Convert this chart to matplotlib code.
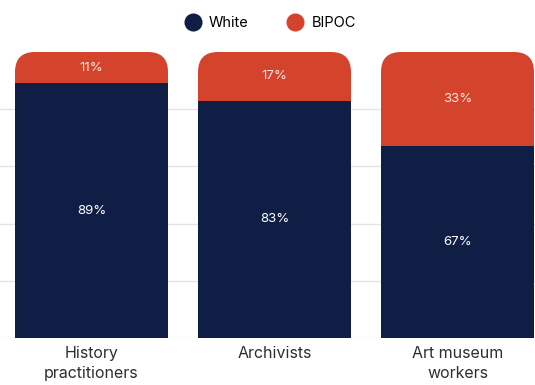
import matplotlib
matplotlib.use("Agg")
import matplotlib.pyplot as plt
from matplotlib.patches import FancyBboxPatch
from matplotlib.lines import Line2D

categories = ["History\npractitioners", "Archivists", "Art museum\nworkers"]
white = [89, 83, 67]
bipoc = [11, 17, 33]
series_names = ["White", "BIPOC"]
navy = "#101d45"
red = "#d4432c"
text_col = "#2e2e2e"

W, H = 535, 385
fig = plt.figure(figsize=(W/100, H/100), dpi=100)
top_px, bot_px = 52, 338
ax = fig.add_axes([0, (H-bot_px)/H, 1, (bot_px-top_px)/H])
ax.set_xlim(-0.5, (W-91.5)/183)
ax.set_ylim(0, 100)
for s in ax.spines.values():
    s.set_visible(False)

for g in [0, 20, 40, 60, 80]:
    ax.axhline(g, color="#e4e4e4", lw=1, zorder=0)

bw = 153/183
px_x = 183.0
px_y = (bot_px-top_px)/100.0
rad = 20/px_x
x = list(range(len(categories)))
for i in x:
    tot = white[i] + bipoc[i]
    p = FancyBboxPatch((i - bw/2, 0), bw, tot,
                       boxstyle=f"round,pad=0,rounding_size={rad}",
                       mutation_aspect=px_x/px_y,
                       fc=red, ec="none", zorder=2)
    ax.add_patch(p)
ax.bar(x, white, width=bw, color=navy, zorder=3)

for i in x:
    ax.text(i, white[i]/2, f"{white[i]}%", ha="center", va="center",
            color="white", fontsize=9.5, family="Inter", zorder=4)
    ax.text(i, white[i] + bipoc[i]/2, f"{bipoc[i]}%", ha="center", va="center",
            color="#fbe9e4", fontsize=9.5, family="Inter", zorder=4)

ax.set_xticks(x)
ax.set_xticklabels(categories, fontsize=11.5, color=text_col, family="Inter",
                   linespacing=1.35)
ax.tick_params(axis="x", length=0, pad=6)
ax.set_yticks([])

handles = [Line2D([], [], marker="o", ls="none", ms=12, mfc=c, mec=c)
           for c in (navy, red)]
fig.legend(handles, series_names, loc="center", bbox_to_anchor=(270/W, 1-23/H),
           ncol=2, frameon=False, handletextpad=0.5, handlelength=1.2,
           columnspacing=2.6, prop={"family": "Inter", "size": 10.5})

fig.savefig("out.png", dpi=100)
